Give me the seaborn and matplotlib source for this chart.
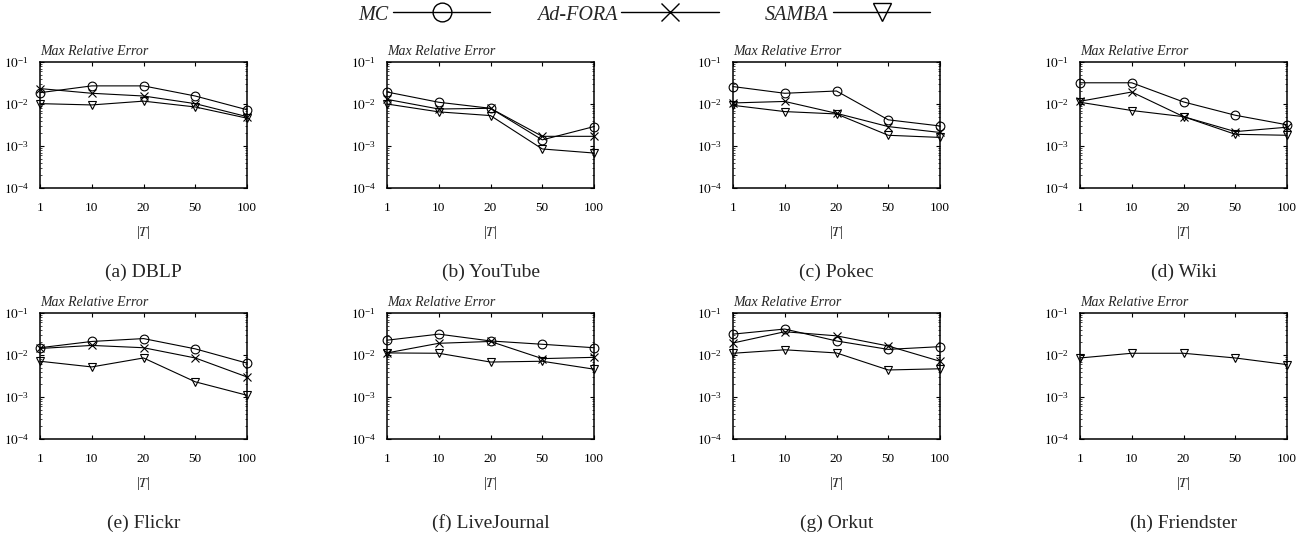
import matplotlib
matplotlib.use("Agg")
import matplotlib.pyplot as plt
import matplotlib.ticker as mticker
from matplotlib.lines import Line2D
import seaborn as sns
import pandas as pd
import numpy as np

sns.set_theme(style="ticks")
plt.rcParams['font.family'] = ['Liberation Serif', 'DejaVu Serif']
plt.rcParams['mathtext.fontset'] = 'stix'

x_labels = ["1", "10", "20", "50", "100"]
methods = ["MC", "Ad-FORA", "SAMBA"]
captions = ["(a) DBLP", "(b) YouTube", "(c) Pokec", "(d) Wiki",
            "(e) Flickr", "(f) LiveJournal", "(g) Orkut", "(h) Friendster"]

mc_dblp = [0.0186, 0.027, 0.027, 0.0155, 0.0073]
fora_dblp = [0.0233, 0.018, 0.0155, 0.0102, 0.005]
samba_dblp = [0.0102, 0.0095, 0.0117, 0.0085, 0.0046]

mc_youtube = [0.0193, 0.011, 0.0079, 0.0014, 0.0029]
fora_youtube = [0.0129, 0.0076, 0.0079, 0.0017, 0.0017]
samba_youtube = [0.010, 0.0065, 0.0053, 0.00085, 0.00068]

mc_pokec = [0.026, 0.018, 0.0204, 0.0042, 0.003]
fora_pokec = [0.0106, 0.0115, 0.006, 0.0029, 0.0021]
samba_pokec = [0.0093, 0.0066, 0.0058, 0.0018, 0.0016]

mc_wiki = [0.032, 0.032, 0.0112, 0.0054, 0.0032]
fora_wiki = [0.0116, 0.0193, 0.005, 0.0022, 0.0028]
samba_wiki = [0.011, 0.0070, 0.005, 0.0019, 0.0018]

mc_flickr = [0.0149, 0.021, 0.0246, 0.014, 0.0064]
fora_flickr = [0.0143, 0.0169, 0.0149, 0.0085, 0.0030]
samba_flickr = [0.0071, 0.0052, 0.0085, 0.0023, 0.0011]

mc_lj = [0.0225, 0.0314, 0.0216, 0.018, 0.0149]
fora_lj = [0.0112, 0.019, 0.021, 0.0082, 0.0088]
samba_lj = [0.0112, 0.011, 0.0068, 0.0071, 0.0046]

mc_orkut = [0.0314, 0.0415, 0.0216, 0.0136, 0.0158]
fora_orkut = [0.0193, 0.0358, 0.0286, 0.0164, 0.0071]
samba_orkut = [0.011, 0.0133, 0.0112, 0.0044, 0.0047]

mc_friendster = None
fora_friendster = None
samba_friendster = [0.0085, 0.011, 0.011, 0.0085, 0.0059]

datasets = [
    (mc_dblp, fora_dblp, samba_dblp),
    (mc_youtube, fora_youtube, samba_youtube),
    (mc_pokec, fora_pokec, samba_pokec),
    (mc_wiki, fora_wiki, samba_wiki),
    (mc_flickr, fora_flickr, samba_flickr),
    (mc_lj, fora_lj, samba_lj),
    (mc_orkut, fora_orkut, samba_orkut),
    (mc_friendster, fora_friendster, samba_friendster),
]

marker_style = {
    "MC": dict(marker="o", markersize=6.3),
    "Ad-FORA": dict(marker="x", markersize=6.3),
    "SAMBA": dict(marker="v", markersize=5.8),
}

W, H = 1309, 538
fig = plt.figure(figsize=(W / 100, H / 100), dpi=100)

lefts = [40, 387, 733, 1080]
tops = [62, 313]
aw, ah = 207, 126

for i, series in enumerate(datasets):
    r, c = divmod(i, 4)
    ax = fig.add_axes([lefts[c] / W, 1 - (tops[r] + ah) / H, aw / W, ah / H])
    for name, vals in zip(methods, series):
        if vals is None:
            continue
        df = pd.DataFrame({"T": x_labels, "err": vals})
        st = marker_style[name]
        sns.lineplot(data=df, x="T", y="err", ax=ax, sort=False, color="black",
                     lw=0.8, marker=st["marker"], markersize=st["markersize"],
                     mfc="none", mec="black", mew=0.8, clip_on=False)
    ax.set_yscale("log")
    ax.set_ylim(1e-4, 1e-1)
    ax.set_xlim(0, 4)
    ax.yaxis.set_major_locator(mticker.LogLocator(base=10, numticks=10))
    ax.yaxis.set_minor_locator(mticker.LogLocator(base=10, subs=np.arange(2, 10), numticks=10))
    ax.yaxis.set_minor_formatter(mticker.NullFormatter())
    ax.yaxis.set_major_formatter(mticker.FuncFormatter(
        lambda v, p: r"$10^{\mathregular{-%d}}$" % int(round(-np.log10(v)))))
    ax.tick_params(axis="both", which="both", direction="in", top=True, right=True,
                   labelsize=9.5, colors="black")
    ax.tick_params(axis="x", which="major", pad=10)
    ax.tick_params(axis="y", which="major", pad=8)
    ax.tick_params(axis="both", which="major", length=3, width=0.8)
    ax.tick_params(axis="y", which="minor", length=1.5, width=0.5)
    for s in ax.spines.values():
        s.set_linewidth(1.1)
        s.set_color("black")
    ax.set_xlabel(r"|$T$|", fontsize=10, labelpad=7)
    ax.set_ylabel("")
    ax.text(0, 1.055, "Max Relative Error", transform=ax.transAxes,
            fontsize=10, style="italic", ha="left", va="baseline")
    ax.text(0.5, -0.667, captions[i], transform=ax.transAxes, fontsize=14,
            ha="center", va="center")

handles = [
    Line2D([], [], color="black", lw=1.0, marker="o", markersize=13.5, mfc="none", mew=1.0),
    Line2D([], [], color="black", lw=1.0, marker="x", markersize=13.5, mew=1.0),
    Line2D([], [], color="black", lw=1.0, marker="v", markersize=12.5, mfc="none", mew=1.0),
]
leg = fig.legend(handles, methods, loc="center", bbox_to_anchor=(644.5 / W, 1 - 15 / H),
                 ncol=3, frameon=False, markerfirst=False, handlelength=4.85,
                 columnspacing=2.3, handletextpad=0.2, borderpad=0.2,
                 prop={"family": "Liberation Serif", "style": "italic", "size": 14.5})

fig.savefig("out.png", dpi=100)
